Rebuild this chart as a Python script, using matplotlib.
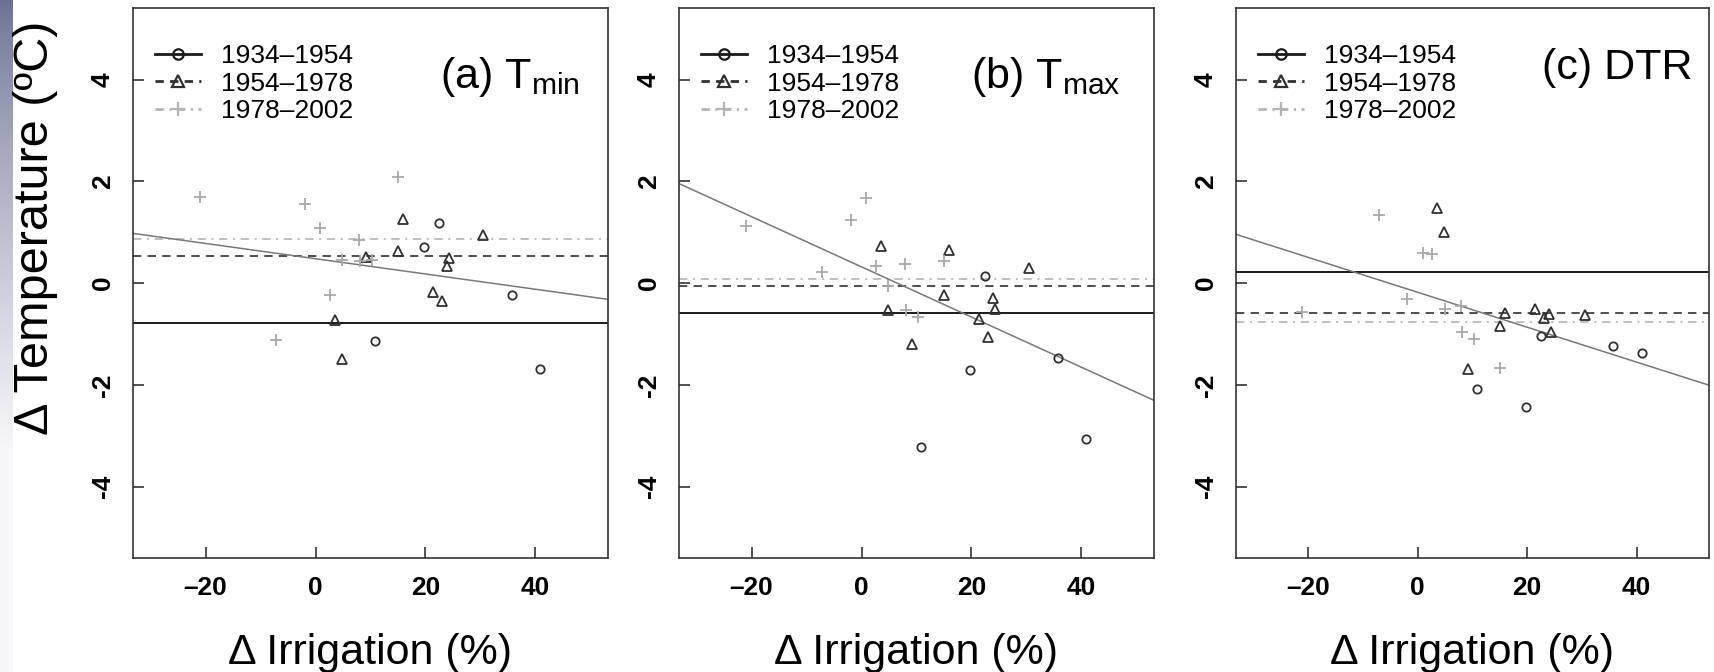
import numpy as np
import matplotlib
matplotlib.use('Agg')
import matplotlib.pyplot as plt
from matplotlib.lines import Line2D

# Изменение орошения (%) по периодам - одинаково для всех трёх панелей
irr_1934 = [10.9, 19.8, 22.5, 35.7, 40.9]
irr_1954 = [3.5, 4.8, 9.2, 15.0, 16.0, 21.4, 23.0, 24.0, 24.3, 30.5]
irr_1978 = [-21.1, -7.1, -2.0, 0.9, 2.6, 4.9, 7.9, 8.0, 10.2, 15.0]

# (a) Tmin
tmin_1934 = [-1.13, 0.72, 1.18, -0.24, -1.68]
tmin_1954 = [-0.72, -1.50, 0.52, 0.64, 1.26, -0.17, -0.35, 0.33, 0.49, 0.94]
tmin_1978 = [1.70, -1.11, 1.56, 1.08, -0.24, 0.45, 0.84, 0.43, 0.46, 2.09]

# (b) Tmax
tmax_1934 = [-3.22, -1.71, 0.15, -1.48, -3.07]
tmax_1954 = [0.73, -0.52, -1.19, -0.23, 0.66, -0.70, -1.06, -0.29, -0.50, 0.29]
tmax_1978 = [1.13, 0.22, 1.24, 1.67, 0.33, -0.06, 0.37, -0.52, -0.67, 0.43]

# (c) DTR
dtr_1934 = [-2.08, -2.43, -1.03, -1.23, -1.38]
dtr_1954 = [1.47, 1.01, -1.68, -0.84, -0.58, -0.50, -0.69, -0.60, -0.95, -0.63]
dtr_1978 = [-0.57, 1.34, -0.31, 0.59, 0.57, -0.51, -0.44, -0.95, -1.10, -1.67]

# горизонтальные линии по периодам (1934-1954, 1954-1978, 1978-2002)
means_tmin = [-0.78, 0.54, 0.87]
means_tmax = [-0.59, -0.05, 0.09]
means_dtr = [0.21, -0.58, -0.77]

# линия регрессии: y = a + b*x
fit_intercept = [0.48, 0.32, -0.18]
fit_slope = [-0.0150, -0.0493, -0.0343]

periods = ['1934\u20131954', '1954\u20131978', '1978\u20132002']
panel_labels = [r'(a) T$_{\mathrm{min}}$', r'(b) T$_{\mathrm{max}}$', '(c) DTR']
label_x = [0.646, 0.615, 0.647]
label_y = [0.855, 0.855, 0.872]
xticks = [-20, 0, 20, 40]
yticks = [-4, -2, 0, 2, 4]

plt.rcParams.update({
    'font.family': ['Liberation Sans', 'DejaVu Sans'],
    'mathtext.fontset': 'custom',
    'mathtext.rm': 'Liberation Sans',
    'mathtext.it': 'Liberation Sans:italic',
    'lines.scale_dashes': False,
})

irr = [irr_1934, irr_1954, irr_1978]
panel_y = [[tmin_1934, tmin_1954, tmin_1978],
           [tmax_1934, tmax_1954, tmax_1978],
           [dtr_1934, dtr_1954, dtr_1978]]
panel_means = [means_tmin, means_tmax, means_dtr]

# стиль каждого периода
line_colors = ['#1a1a1a', '#303030', '#b4b4b4']
mark_colors = ['#303030', '#303030', '#a8a8a8']
line_styles = ['-', (0, (6, 4.5)), (0, (6, 4, 1.5, 4))]
line_widths = [1.4, 1.2, 1.2]
markers = ['o', '^', '+']
msizes = [6, 7.5, 8.5]

fig = plt.figure(figsize=(17.14, 6.72), dpi=100)

# синеватая полоска слева
strip = fig.add_axes([0, 0, 13 / 1714, 1])
grad = np.linspace(0, 1, 256)[:, None]
top_c = np.array([0.42, 0.44, 0.58])
bot_c = np.array([0.97, 0.97, 0.98])
w = np.clip(grad * 1.5, 0, 1) ** 0.8
img = top_c * (1 - w[..., None]) + bot_c * w[..., None]
strip.imshow(img, aspect='auto', extent=[0, 1, 0, 1])
strip.axis('off')

lefts = [133, 679, 1236]
widths = [475, 475, 473]
axes = []
for i in range(3):
    ax = fig.add_axes([lefts[i] / 1714, 114 / 672, widths[i] / 1714, 549.7 / 672])
    axes.append(ax)

for i, ax in enumerate(axes):
    for p in range(3):
        ax.axhline(panel_means[i][p], color=line_colors[p], ls=line_styles[p],
                   lw=line_widths[p], zorder=2)
    ax.axline((0, fit_intercept[i]), slope=fit_slope[i], color='#787878', lw=1.1, zorder=2)
    for p in range(3):
        ax.plot(irr[p], panel_y[i][p], ls='none', marker=markers[p], ms=msizes[p],
                mfc='none', mec=mark_colors[p], mew=1.3, zorder=3)

    ax.set_xlim(-33.2, 53.2)
    ax.set_ylim(-5.4, 5.4)
    ax.set_xticks(xticks)
    ax.set_xticklabels([str(t).replace('-', '\u2013') for t in xticks])
    ax.set_yticks(yticks)
    ax.set_yticklabels([str(t) for t in yticks])
    ax.tick_params(direction='in', length=8, width=1.1, pad=13, labelsize=19, colors='#222222')
    ax.tick_params(axis='y', labelrotation=90)
    for lab in ax.get_xticklabels() + ax.get_yticklabels():
        lab.set_fontweight('bold')
        lab.set_color('black')
    for lab in ax.get_yticklabels():
        lab.set_va('center')
    for sp in ax.spines.values():
        sp.set_linewidth(1.2)
        sp.set_color('#333333')

    ax.set_xlabel('\u0394 Irrigation (%)', fontsize=31, labelpad=24)
    ax.text(label_x[i], label_y[i], panel_labels[i], transform=ax.transAxes,
            fontsize=31, ha='left', va='baseline')

    handles = [Line2D([], [], color=line_colors[p], ls=line_styles[p], lw=2.0,
                      marker=markers[p], ms=msizes[p] + 1.5, mfc='none',
                      mec=line_colors[p], mew=1.6) for p in range(3)]
    ax.legend(handles, periods, loc='upper left', bbox_to_anchor=(0.046, 0.935),
              frameon=False, fontsize=19, handlelength=1.75, handletextpad=0.76,
              labelspacing=0.14, borderpad=0, borderaxespad=0, numpoints=1)

fig.text(0.021, 1 - 228 / 672, '\u0394 Temperature (\u00baC)', rotation=90,
         fontsize=35, ha='center', va='center')

fig.savefig('out.png', dpi=100)
